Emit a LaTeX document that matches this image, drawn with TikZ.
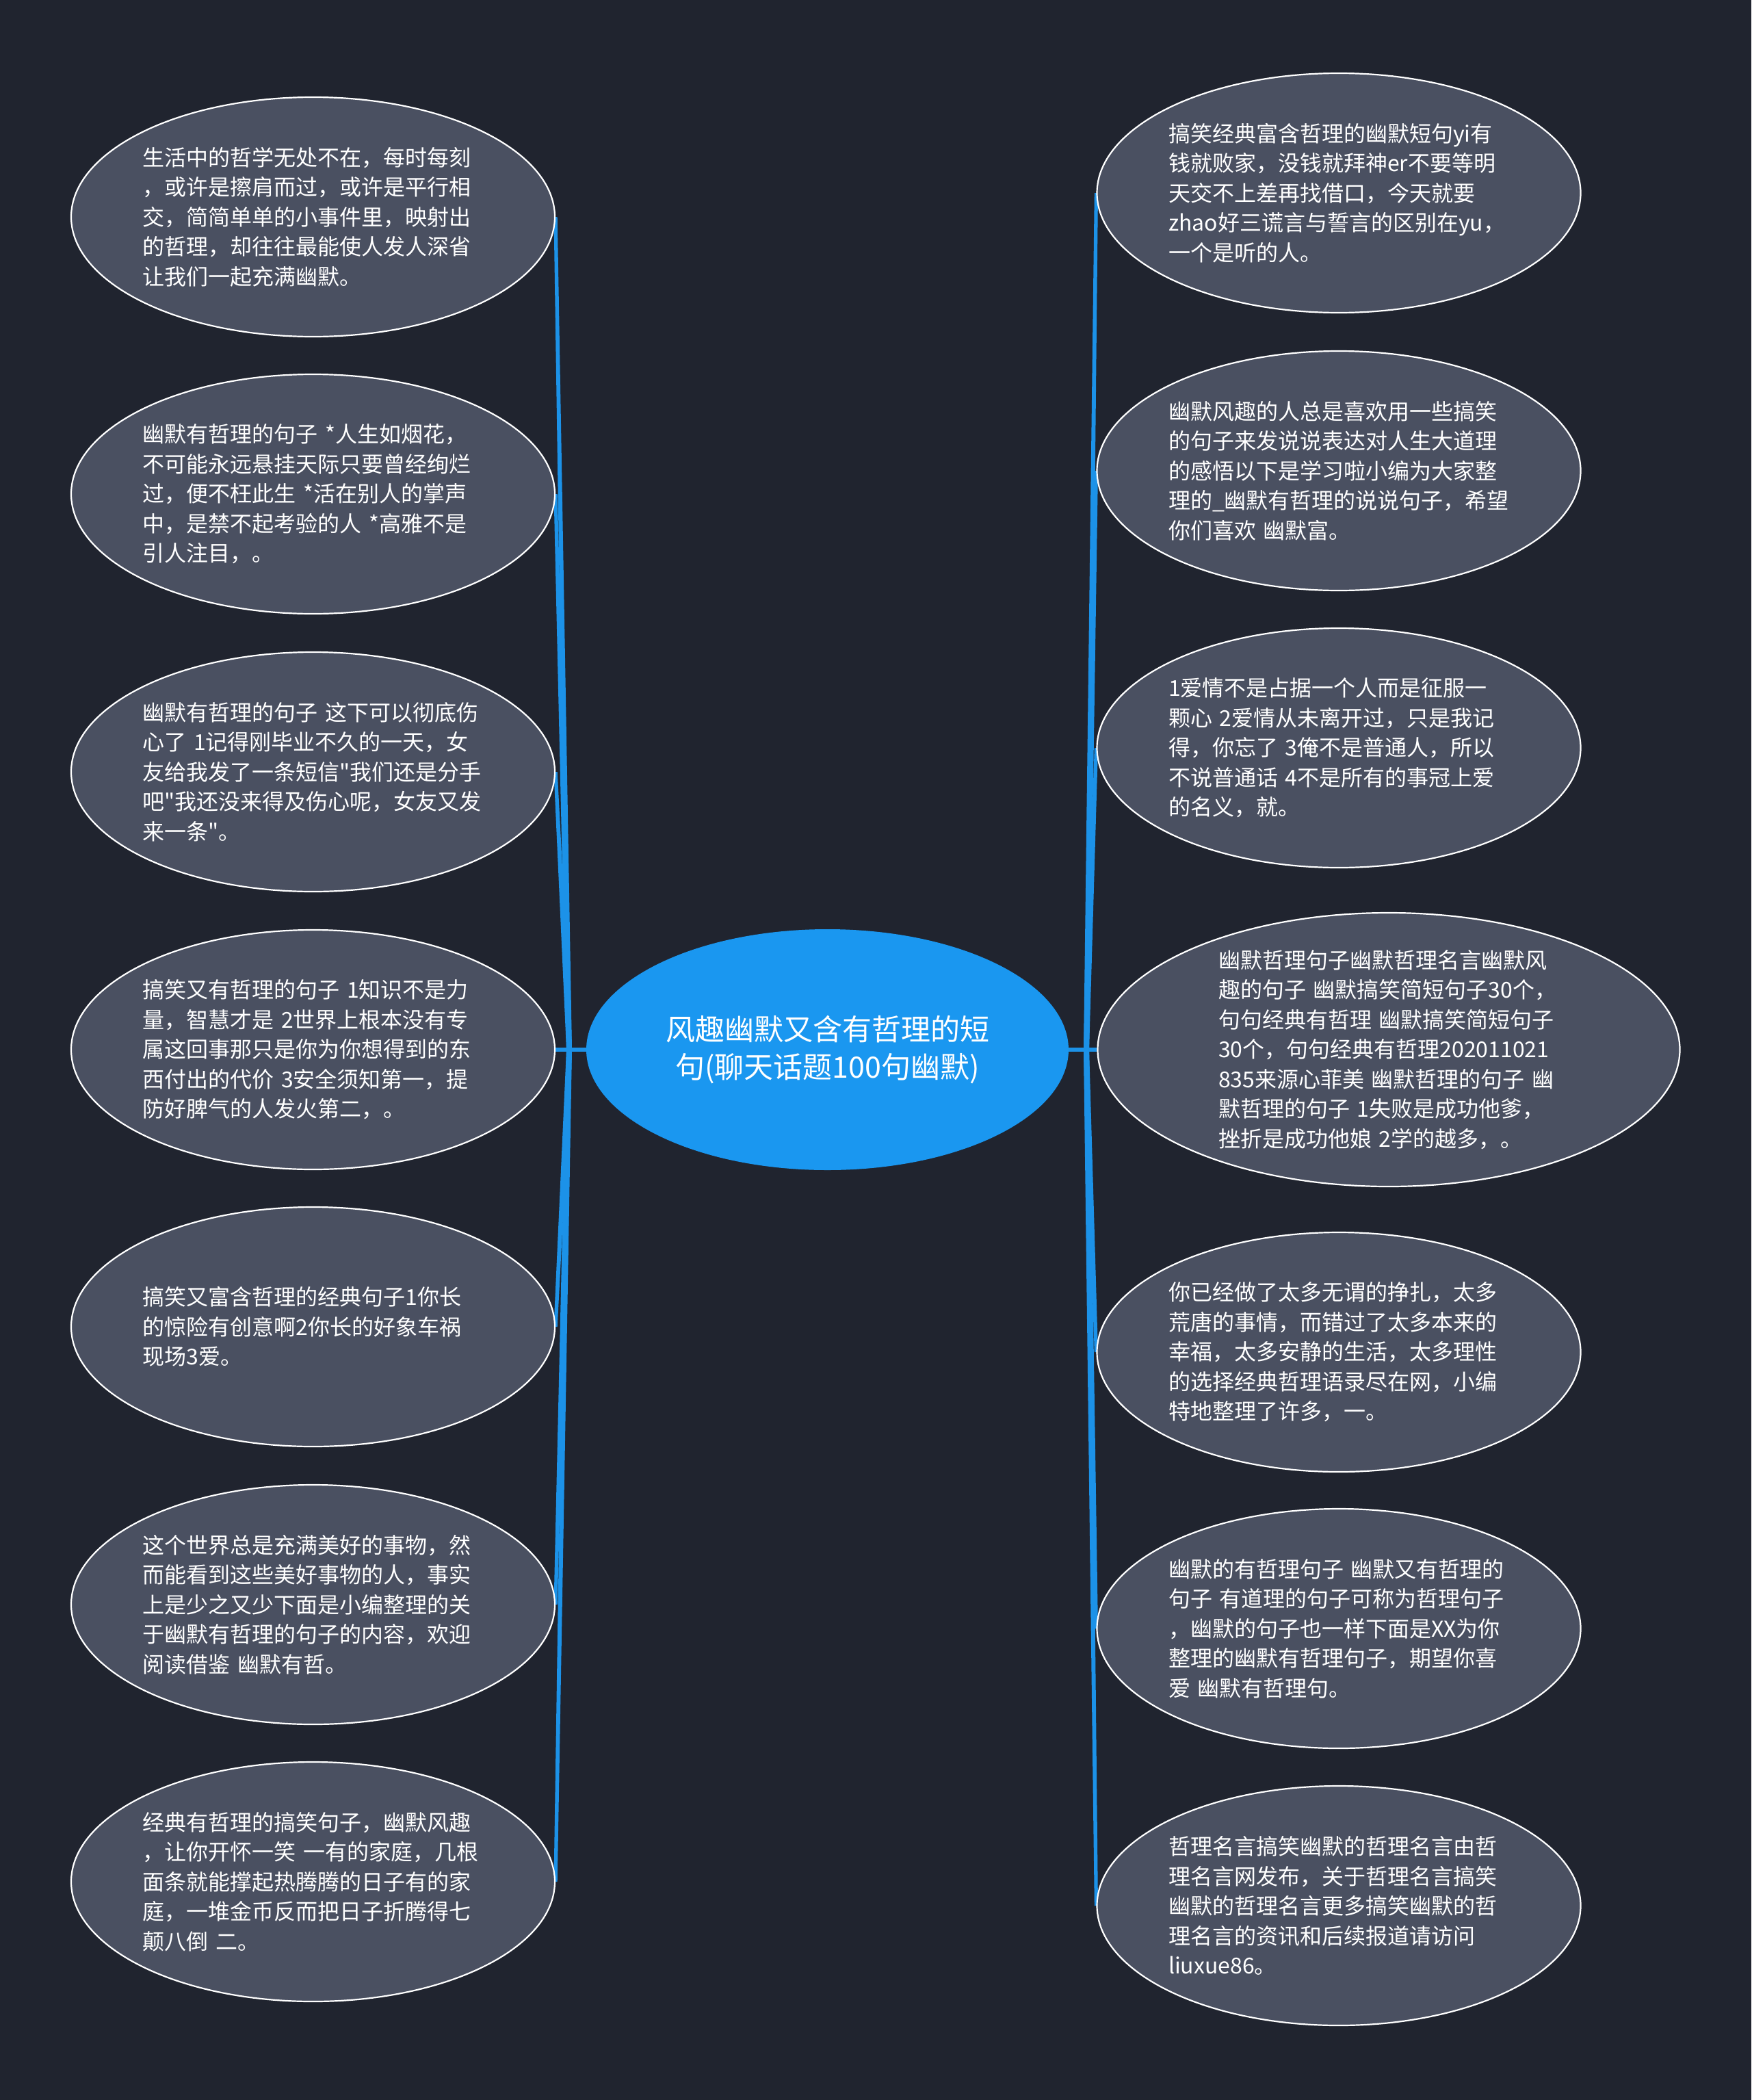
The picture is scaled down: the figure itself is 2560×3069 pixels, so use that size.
\documentclass[tikz,border=0pt]{standalone}
\usepackage{fontspec}
\setmainfont{Noto Sans CJK SC}[Ligatures=TeXOff]
\usetikzlibrary{shapes.geometric,calc}
\definecolor{bg}{HTML}{20242F}
\definecolor{leaffill}{HTML}{4A5061}
\definecolor{hub}{HTML}{1A97F0}
\definecolor{link}{HTML}{1C92E8}
\pgfdeclarelayer{back}
\pgfsetlayers{back,main}
\tikzset{
  leaf/.style={ellipse, draw=white, line width=2.2pt, fill=leaffill, minimum width=707pt, minimum height=350pt, inner sep=0pt},
  wideleaf/.style={leaf, minimum width=851pt, minimum height=400pt},
  leaftext/.style={text=white, text width=498pt, align=left, font=\fontsize{32pt}{43.5pt}\selectfont, inner sep=0pt},
  hubnode/.style={ellipse, fill=hub, minimum width=705pt, minimum height=352pt, text=white, align=center, font=\fontsize{43pt}{55pt}\selectfont, inner sep=0pt},
  conn/.style={draw=link, line width=6.5pt},
  taperfill/.style={fill=link},
}
% tapered, near-vertical connector from a junction to a leaf anchor
\newcommand\mylink[2]{\fill[taperfill] ($(#1)+(-4,0)$) -- ($(#2)+(-2.6,0)$) -- ($(#2)+(2.6,0)$) -- ($(#1)+(4,0)$) -- cycle;}
\begin{document}
\begin{tikzpicture}[x=1pt,y=-1pt]
\useasboundingbox (0,0) rectangle (2560,3069);
\begin{pgfonlayer}{back}
\fill[bg] (0,0) rectangle (2560,3069);
\end{pgfonlayer}

\node[hubnode] (C) at (1209.5,1534) {风趣幽默又含有哲理的短\\句(聊天话题100句幽默)};

% left leaves
\node[leaf] (L1) at (457.5,317) {};
\node[leaftext] (L1t) at (L1.center) {生活中的哲学无处不在，每时每刻\\，或许是擦肩而过，或许是平行相\\交，简简单单的小事件里，映射出\\的哲理，却往往最能使人发人深省\\让我们一起充满幽默。};
\node[leaf] (L2) at (457.5,722) {};
\node[leaftext] (L2t) at (L2.center) {幽默有哲理的句子 *人生如烟花，\\不可能永远悬挂天际只要曾经绚烂\\过，便不枉此生 *活在别人的掌声\\中，是禁不起考验的人 *高雅不是\\引人注目，。};
\node[leaf] (L3) at (457.5,1128) {};
\node[leaftext] (L3t) at (L3.center) {幽默有哲理的句子 这下可以彻底伤\\心了 1记得刚毕业不久的一天，女\\友给我发了一条短信"我们还是分手\\吧"我还没来得及伤心呢，女友又发\\来一条"。};
\node[leaf] (L4) at (457.5,1534) {};
\node[leaftext] (L4t) at (L4.center) {搞笑又有哲理的句子 1知识不是力\\量，智慧才是 2世界上根本没有专\\属这回事那只是你为你想得到的东\\西付出的代价 3安全须知第一，提\\防好脾气的人发火第二，。};
\node[leaf] (L5) at (457.5,1939) {};
\node[leaftext] (L5t) at (L5.center) {搞笑又富含哲理的经典句子1你长\\的惊险有创意啊2你长的好象车祸\\现场3爱。};
\node[leaf] (L6) at (457.5,2345) {};
\node[leaftext] (L6t) at (L6.center) {这个世界总是充满美好的事物，然\\而能看到这些美好事物的人，事实\\上是少之又少下面是小编整理的关\\于幽默有哲理的句子的内容，欢迎\\阅读借鉴 幽默有哲。};
\node[leaf] (L7) at (457.5,2750) {};
\node[leaftext] (L7t) at (L7.center) {经典有哲理的搞笑句子，幽默风趣\\，让你开怀一笑 一有的家庭，几根\\面条就能撑起热腾腾的日子有的家\\庭，一堆金币反而把日子折腾得七\\颠八倒 二。};

% right leaves
\node[leaf] (R1) at (1957,282) {};
\node[leaftext] (R1t) at (R1.center) {搞笑经典富含哲理的幽默短句yi有\\钱就败家，没钱就拜神er不要等明\\天交不上差再找借口，今天就要\\zhao好三谎言与誓言的区别在yu，\\一个是听的人。};
\node[leaf] (R2) at (1957,688) {};
\node[leaftext] (R2t) at (R2.center) {幽默风趣的人总是喜欢用一些搞笑\\的句子来发说说表达对人生大道理\\的感悟以下是学习啦小编为大家整\\理的\_幽默有哲理的说说句子，希望\\你们喜欢 幽默富。};
\node[leaf] (R3) at (1957,1093) {};
\node[leaftext] (R3t) at (R3.center) {1爱情不是占据一个人而是征服一\\颗心 2爱情从未离开过，只是我记\\得，你忘了 3俺不是普通人，所以\\不说普通话 4不是所有的事冠上爱\\的名义，就。};
\node[wideleaf] (R4) at (2030,1534) {};
\node[leaftext] (R4t) at (R4.center) {幽默哲理句子幽默哲理名言幽默风\\趣的句子 幽默搞笑简短句子30个，\\句句经典有哲理 幽默搞笑简短句子\\30个，句句经典有哲理202011021\\835来源心菲美 幽默哲理的句子 幽\\默哲理的句子 1失败是成功他爹，\\挫折是成功他娘 2学的越多，。};
\node[leaf] (R5) at (1957,1976) {};
\node[leaftext] (R5t) at (R5.center) {你已经做了太多无谓的挣扎，太多\\荒唐的事情，而错过了太多本来的\\幸福，太多安静的生活，太多理性\\的选择经典哲理语录尽在网，小编\\特地整理了许多，一。};
\node[leaf] (R6) at (1957,2380) {};
\node[leaftext] (R6t) at (R6.center) {幽默的有哲理句子 幽默又有哲理的\\句子 有道理的句子可称为哲理句子\\，幽默的句子也一样下面是XX为你\\整理的幽默有哲理句子，期望你喜\\爱 幽默有哲理句。};
\node[leaf] (R7) at (1957,2785) {};
\node[leaftext] (R7t) at (R7.center) {哲理名言搞笑幽默的哲理名言由哲\\理名言网发布，关于哲理名言搞笑\\幽默的哲理名言更多搞笑幽默的哲\\理名言的资讯和后续报道请访问\\liuxue86。};

\coordinate (jL) at (832,1534);
\coordinate (jR) at (1588,1534);

\begin{pgfonlayer}{back}
\draw[conn] (C.west) -- (jL);
\draw[conn] (C.east) -- (jR);
\draw[conn] (jL) -- (L4.east);
\draw[conn] (jR) -- (R4.west);
\foreach \n in {L1,L2,L3,L5,L6,L7} {\mylink{jL}{\n.east}}
\foreach \n in {R1,R2,R3,R5,R6,R7} {\mylink{jR}{\n.west}}
\end{pgfonlayer}
\end{tikzpicture}
\end{document}
